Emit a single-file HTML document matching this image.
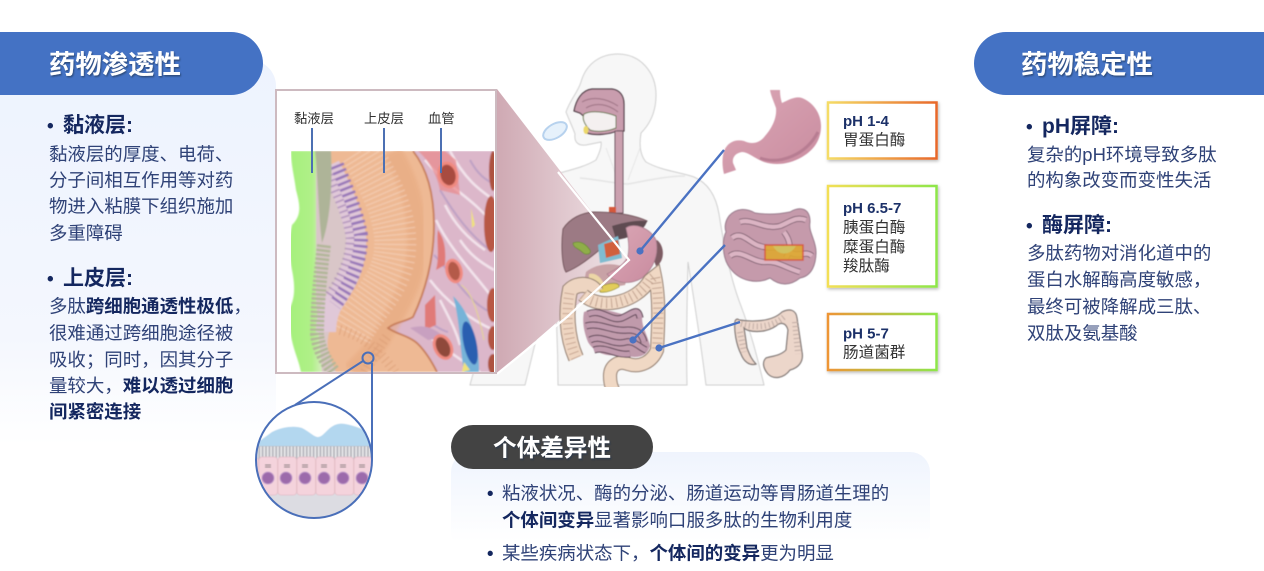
<!DOCTYPE html>
<html lang="zh"><head><meta charset="utf-8"><title>口服多肽屏障</title>
<style>
html,body{margin:0;padding:0;background:#fff;width:1264px;height:571px;overflow:hidden}
svg{display:block}
text{font-family:"Liberation Sans","Noto Sans CJK SC",sans-serif;fill:#2f4277;font-size:18.45px}
.h{font-size:26.4px;font-weight:700;fill:#fff}
.s{font-size:21px;font-weight:700;fill:#14275f}
.b{font-weight:700;fill:#14275f}
.lab{font-size:13.3px;fill:#333}
.ph{font-size:15px;font-weight:700;fill:#1b3068}
.en{font-size:15.6px;fill:#333}
</style></head><body>
<svg width="1264" height="571" viewBox="0 0 1264 571" xmlns="http://www.w3.org/2000/svg">
<defs>
<linearGradient id="lc" x1="0" y1="0" x2="0" y2="1"><stop offset="0" stop-color="#edf3fe"/><stop offset=".72" stop-color="#f4f7fe"/><stop offset="1" stop-color="#fff"/></linearGradient>
<linearGradient id="bc" x1="0" y1="0" x2="0" y2="1"><stop offset="0" stop-color="#eff4fd"/><stop offset=".9" stop-color="#fff"/></linearGradient>
<linearGradient id="wedge" x1="497" y1="0" x2="632" y2="0" gradientUnits="userSpaceOnUse"><stop offset="0" stop-color="#cfa9b3"/><stop offset=".55" stop-color="#e2cbd1"/><stop offset="1" stop-color="#f1e7e9"/></linearGradient>
<linearGradient id="g1" x1="0" y1="0" x2="1" y2="0"><stop offset="0" stop-color="#f5dc66"/><stop offset="1" stop-color="#e8682a"/></linearGradient>
<linearGradient id="g2" x1="0" y1="0" x2="1" y2="0"><stop offset="0" stop-color="#f3df55"/><stop offset="1" stop-color="#8ee64a"/></linearGradient>
<linearGradient id="g3" x1="0" y1="0" x2="1" y2="0"><stop offset="0" stop-color="#ee9536"/><stop offset="1" stop-color="#8ee64a"/></linearGradient>
<linearGradient id="grn" x1="0" y1="0" x2="1" y2="0"><stop offset="0" stop-color="#a5f07c"/><stop offset=".7" stop-color="#b0f088"/><stop offset="1" stop-color="#d4eebc"/></linearGradient>
<linearGradient id="sto" x1="0" y1="0" x2="1" y2="1"><stop offset="0" stop-color="#dba8b6"/><stop offset="1" stop-color="#c98b9f"/></linearGradient>
<clipPath id="cs"><rect x="291" y="151" width="203" height="221"/></clipPath>
<clipPath id="circ"><circle cx="314" cy="460" r="58"/></clipPath>
<clipPath id="bodyclip"><rect x="440" y="40" width="340" height="347"/></clipPath>
<filter id="bl"><feGaussianBlur stdDeviation=".45"/></filter>
<filter id="bl1"><feGaussianBlur stdDeviation=".75"/></filter>
<filter id="bl2"><feGaussianBlur stdDeviation="1.6"/></filter>
<filter id="sh" x="-10%" y="-10%" width="125%" height="125%"><feDropShadow dx="1" dy="1.5" stdDeviation="1.5" flood-color="#000" flood-opacity=".28"/></filter>
<filter id="ts" x="-10%" y="-20%" width="125%" height="150%"><feDropShadow dx="1" dy="1.5" stdDeviation=".7" flood-color="#22304f" flood-opacity=".6"/></filter>
</defs>

<!-- side card backgrounds -->
<rect x="-30" y="60" width="306" height="385" rx="26" fill="url(#lc)"/>
<rect x="451" y="452" width="479" height="100" rx="20" fill="url(#bc)"/>

<!-- human body -->
<g filter="url(#bl)" clip-path="url(#bodyclip)">
<path d="M618 54C640 54 656 72 656 95C656 112 650 124 641 133C639 145 640 155 646 162C662 171 680 172 694 177C708 183 716 196 719 214C723 240 730 278 741 306C750 330 756 352 764 385L706 385C702 352 696 312 688 262C687 300 686 345 687 385L558 385C558 350 556 305 553 270C545 300 535 345 525 385L470 385C482 340 498 300 508 268C514 235 520 195 540 180C556 172 580 170 596 160C600 152 602 146 601 142L586 145C578 146 574 142 575 134C573 128 570 122 566 112C570 100 578 92 581 82C586 64 600 54 618 54Z" fill="#f7f7f7" stroke="#cfcfcf" stroke-width="1"/>
<path d="M580 178C600 180 618 184 628 184C640 182 665 176 685 176" fill="none" stroke="#e4e4e4" stroke-width="1.5"/>
<path d="M606 148L618 180M640 148L628 180" stroke="#e6e6e6" fill="none"/>
</g>

<!-- wedge -->
<polygon points="497,89 629,260 497,374" fill="url(#wedge)"/>

<!-- tablet -->
<ellipse cx="555" cy="131" rx="13" ry="7" transform="rotate(-30 555 131)" fill="#e6f1fb" stroke="#b7d2ee" stroke-width="2"/>

<!-- organs in body -->
<g filter="url(#bl)" clip-path="url(#bodyclip)">
<path d="M574 111C576 100 582 90 592 89L612 89C620 90 624 96 624 104L624 131L617 131C610 134 596 136 587 133L586 118L580 113Z" fill="#c99dae" stroke="#4f3d46" stroke-width="1.2"/>
<path d="M584 114C592 110 606 112 616 116L616 128C606 132 596 132 590 130C584 124 582 118 584 114Z" fill="#f4f0f0" stroke="#6c7a54" stroke-width="1"/>
<path d="M582 102C592 96 606 98 618 106M586 108C596 102 608 104 618 112" fill="none" stroke="#a47a8b" stroke-width="1.2"/>
<ellipse cx="586" cy="130" rx="2.5" ry="4" fill="#ecd86a"/>
<rect x="615" y="131" width="8" height="82" fill="#cba0af" stroke="#6d5560" stroke-width="1"/>
<rect x="609" y="207" width="7" height="9" fill="#d5583a"/>
<path d="M593 212C612 212 632 214 647 221C642 230 628 236 612 240C596 252 582 266 566 272C562 266 561 245 563 229C570 218 582 213 593 212Z" fill="#9c7a84" stroke="#76585f" stroke-width="1"/>
<path d="M612 226C625 222 638 220 647 221C644 232 630 238 616 240Z" fill="#5e4c51"/>
<path d="M657 240C665 246 665 262 656 266L650 250Z" fill="#7d5b64"/>
<path d="M573 243C580 240 586 244 590 250C592 254 586 256 582 252C578 248 573 248 573 243Z" fill="#8fae48" stroke="#6e8a35" stroke-width=".8"/>
<path d="M598 245L618 236L622 258L600 263Z" fill="#7fbcd0"/>
<path d="M604 244L618 240L620 254L606 258Z" fill="#d1603e"/>
<path d="M586 272C598 262 618 262 630 270L625 285C610 288 592 288 584 282Z" fill="#c8a2a6"/>
<path d="M589 274C596 272 602 278 606 288L598 292C592 286 588 280 589 274Z" fill="#ecd6a6"/>
<path d="M600 287C610 282 620 282 619 287C612 291 605 293 600 292Z" fill="#e2cc5a" stroke="#8f8a3a" stroke-width=".7"/>
<path d="M626 228C634 222 650 228 656 240C659 254 654 268 642 278C630 285 616 284 607 274C614 270 624 266 628 256C630 246 628 236 626 228Z" fill="url(#sto)" stroke="#a97f8e" stroke-width=".8"/>
<!-- colon -->
<path d="M576 358C566 335 566 310 570 290C578 282 592 284 596 292" fill="none" stroke="#8f7a6c" stroke-width="16"/>
<path d="M576 358C566 335 566 310 570 290C578 282 592 284 596 292" fill="none" stroke="#eed5c1" stroke-width="14"/>
<path d="M576 358C566 335 566 310 570 290" fill="none" stroke="#caa995" stroke-width="10" stroke-dasharray="1 4"/>
<path d="M583 295C600 310 635 304 650 280L655 276C660 300 658 330 657 350C652 362 640 368 628 364C618 360 610 366 610 376C610 384 612 388 614 392" fill="none" stroke="#8f7a6c" stroke-width="14"/>
<path d="M583 295C600 310 635 304 650 280L655 276C660 300 658 330 657 350C652 362 640 368 628 364C618 360 610 366 610 376C610 384 612 388 614 392" fill="none" stroke="#f0d8c4" stroke-width="12"/>
<path d="M583 295C600 310 635 304 650 280L655 276C660 300 658 330 657 350" fill="none" stroke="#c2a390" stroke-width="10" stroke-dasharray="1 4"/>
<!-- small intestine -->
<path d="M584 312C600 306 612 312 622 314C634 312 640 300 642 318C642 328 648 336 650 346C646 360 632 358 620 354C606 358 594 352 588 342C584 332 582 322 584 312Z" fill="#c09aab"/>
<path d="M588 314C602 308 610 322 622 318C632 314 638 306 640 318M586 326C600 322 612 332 628 330C638 330 642 334 644 342M590 340C602 334 612 346 626 342C634 340 640 348 646 350M594 350C606 346 616 356 630 354" fill="none" stroke="#574050" stroke-width="7"/>
<path d="M588 314C602 308 610 322 622 318C632 314 638 306 640 318M586 326C600 322 612 332 628 330C638 330 642 334 644 342M590 340C602 334 612 346 626 342C634 340 640 348 646 350M594 350C606 346 616 356 630 354" fill="none" stroke="#c09aad" stroke-width="5"/>
</g>

<!-- white wedge outline -->
<polyline points="558,172 629,260 567,317 497,374" fill="none" stroke="#fff" stroke-width="2.2"/>

<!-- cross-section frame -->
<rect x="276" y="90" width="220" height="283" fill="#fff" stroke="#cdbac0" stroke-width="2"/>
<g clip-path="url(#cs)">
<g filter="url(#bl1)">
<path d="M291 151L322 151L322 372L301 372C298 355 289 345 289 310C294 300 296 290 292 270C288 250 290 235 292 225C302 215 300 205 296 190C294 175 291 165 291 151Z" fill="url(#grn)"/>
<path d="M316 151L345 151L372 230L365 280L345 372L322 372L316 300Z" fill="#d9c6c8"/>
<rect x="385" y="151" width="115" height="221" fill="#dcb7ca"/>
<path d="M425 160C450 190 470 195 494 225M436 220C450 250 480 280 494 300M430 280C445 300 470 320 494 330M450 151C465 180 480 190 494 200M420 330C440 345 460 360 480 372M460 240C470 255 480 262 494 270M445 205C455 225 470 240 485 250M440 300C450 320 456 330 460 345" fill="none" stroke="#f3e4ec" stroke-width="2.5"/>
<path d="M440 190C455 215 470 235 490 250M434 255C450 270 465 300 490 312M470 160C478 175 486 180 494 184M425 320C435 325 440 330 448 332" fill="none" stroke="#bda0c4" stroke-width="2"/>
<ellipse cx="493" cy="171" rx="4" ry="20" fill="#ad5240"/>
<ellipse cx="491" cy="224" rx="7" ry="28" fill="#b85845"/>
<ellipse cx="493" cy="305" rx="6" ry="17" fill="#b85845"/>
<ellipse cx="493" cy="338" rx="5" ry="12" fill="#b25543"/>
<ellipse cx="493" cy="364" rx="5" ry="10" fill="#ad5240"/>
<path d="M326 151L413 151C428 170 434 195 434 225C434 260 425 292 413 317C405 322 395 322 388 328C396 334 410 336 418 344C426 352 432 362 437 372L336 372C330 358 326 348 328 338C330 322 342 308 352 292C362 276 366 258 366 240C364 215 350 195 340 178C334 168 328 160 326 151Z" fill="#eeb994"/>
<path d="M392 152C412 185 420 220 416 260C410 290 402 300 380 340C370 355 362 362 352 372" fill="none" stroke="#e6a87e" stroke-width="20" opacity=".55" filter="url(#bl2)"/>
<path d="M360 151C385 190 400 225 394 258C388 290 362 310 350 336" fill="none" stroke="#f6d6c0" stroke-width="42" stroke-dasharray="1 3.8" opacity=".75"/>
<path d="M340 330C360 335 375 345 395 372M365 372C372 360 380 345 388 335" fill="none" stroke="#d89a72" stroke-width="10" stroke-dasharray="1 4" opacity=".7"/>
<path d="M413 151C428 170 434 195 434 225C434 260 425 292 413 317C405 322 395 322 388 328C396 334 410 336 418 344C426 352 432 362 437 372" fill="none" stroke="#c67a54" stroke-width="1.8"/>
<path d="M330 165C338 182 350 205 356 235C358 260 346 285 332 305C328 313 326 322 326 332" fill="none" stroke="#e0c8d8" stroke-width="20"/>
<path d="M337 165C345 185 356 208 361 235C362 260 350 285 335 305" fill="none" stroke="#9776b8" stroke-width="14" stroke-dasharray="2.6 3.4"/>
<path d="M329 175C336 195 348 215 350 238C350 260 340 280 327 298" fill="none" stroke="#8e6ba8" stroke-width="9" stroke-dasharray="1.5 4" opacity=".6"/>
<path d="M315 151C318 175 318 210 322 243C329 225 333 190 331 151Z" fill="#aeb498"/>
<path d="M324 245C320 275 317 310 317 335C319 350 326 362 334 372" fill="none" stroke="#b1b698" stroke-width="14" stroke-dasharray="2.6 1.8"/>
<path d="M418 151C428 160 436 172 440 190L460 195L456 160L445 151Z" fill="#e8888a" opacity=".7"/>
<ellipse cx="448" cy="175" rx="9" ry="12" transform="rotate(-15 448 175)" fill="#a84b3f" stroke="#f08a80" stroke-width="3"/>
<path d="M438 230C445 240 446 250 445 265L436 270C440 255 436 240 438 230Z" fill="#e07a78"/>
<ellipse cx="454" cy="271" rx="7" ry="11" transform="rotate(-15 454 271)" fill="#b45a4a" stroke="#f08a80" stroke-width="3"/>
<path d="M425 305L435 295L436 325L425 330Z" fill="#e07a78"/>
<path d="M410 328C420 325 432 325 445 338L428 340Z" fill="#c8a0c0"/>
<ellipse cx="443" cy="347" rx="8" ry="12" transform="rotate(-25 443 347)" fill="#8f4a3a" stroke="#f08a80" stroke-width="3"/>
<path d="M453 296C468 310 480 340 479 372L464 372C460 350 460 320 453 296Z" fill="#76b3d8"/>
<ellipse cx="470" cy="343" rx="6.5" ry="22" transform="rotate(-12 470 343)" fill="#2c5fb0"/>
<path d="M471 208L475 225L472 228Z" fill="#f0e27a"/>
<path d="M461 285C470 290 478 310 484 340" fill="none" stroke="#e5d58e" stroke-width="1"/>
<path d="M464 362L470 370L462 372Z" fill="#f0e27a"/>
</g>
</g>

<!-- labels in frame -->
<text class="lab" x="294" y="123">黏液层</text>
<text class="lab" x="364" y="123">上皮层</text>
<text class="lab" x="428" y="123">血管</text>
<path d="M312 128V173M384 128V173M441 128V173" stroke="#4c70b3" stroke-width="2" fill="none"/>

<!-- magnifier -->
<g clip-path="url(#circ)" filter="url(#bl)">
<rect x="250" y="400" width="130" height="120" fill="#fff"/>
<rect x="250" y="490" width="130" height="40" fill="#dcdce2"/>
<path d="M250 448L272 432C284 426 296 426 302 428C310 432 314 437 318 437C324 437 328 426 338 424C346 422 358 428 372 432L380 448L380 450L250 450Z" fill="#b3d7ef"/>
<rect x="250" y="446" width="130" height="14" fill="#b9b9c0"/>
<path d="M250 453H380" stroke="#fff" stroke-width="13" stroke-dasharray="1.4 2" fill="none" opacity=".75"/>
<g fill="#f4d3dc" stroke="#e4bdc7" stroke-width=".8">
<rect x="240" y="457" width="18" height="38" rx="3"/>
<rect x="259" y="457" width="18.5" height="38" rx="3"/>
<rect x="278" y="457" width="18.5" height="38" rx="3"/>
<rect x="297" y="457" width="18.5" height="38" rx="3"/>
<rect x="316" y="457" width="18.5" height="38" rx="3"/>
<rect x="335" y="457" width="18.5" height="38" rx="3"/>
<rect x="354" y="457" width="22" height="38" rx="3"/>
</g>
<g fill="#9c6bab" stroke="#c39ccc" stroke-width="1">
<circle cx="268" cy="478" r="6"/><circle cx="286" cy="478" r="6"/><circle cx="305" cy="478" r="6"/><circle cx="324" cy="478" r="6"/><circle cx="343" cy="478" r="6"/><circle cx="362" cy="478" r="6"/>
</g>
<path d="M265 465H271M265 467H271M284 465H290M284 467H290M302 465H308M302 467H308M321 465H327M321 467H327M340 465H346M340 467H346M359 465H365M359 467H365" stroke="#555" stroke-width=".8"/>
</g>
<circle cx="314" cy="460" r="58" fill="none" stroke="#4a6fb9" stroke-width="2"/>
<circle cx="368" cy="358" r="5.5" fill="none" stroke="#4a6fb9" stroke-width="2"/>
<path d="M363 361L295 405M372 363L372 460" stroke="#4a6fb9" stroke-width="2" fill="none"/>

<!-- big organs -->
<g filter="url(#bl)">
<path d="M770 90L780 90C780 96 781 100 782 103C790 99 796 96 802 98C814 103 821 114 821 126C821 140 814 150 802 157C790 164 776 166 764 162C754 158 748 152 742 152C735 153 732 158 733 163L736 170L724 174C722 166 722 158 724 151C728 142 735 139 744 141C752 145 760 143 765 136C772 128 777 118 776 108C774 102 771 96 770 90Z" fill="url(#sto)"/>
<path d="M760 158C780 165 806 155 818 132" fill="none" stroke="#b77d92" stroke-width="3"/>

<path d="M729 216C736 208 746 208 755 213C768 215 780 214 790 212C800 206 810 208 810 222C808 232 816 240 816 252C816 264 812 276 800 278C790 286 780 286 770 278C758 284 740 282 730 268C722 258 722 240 726 232C724 226 726 220 729 216Z" fill="#c59aab" stroke="#96798a" stroke-width="1"/>
<path d="M732 238C742 230 750 244 760 246C770 250 780 244 790 252C798 258 806 250 812 256M730 256C740 248 752 262 764 262C776 260 786 268 800 272M740 222C752 218 764 230 780 226C790 222 796 216 806 220M784 232C790 240 792 248 786 258" fill="none" stroke="#6f5363" stroke-width="6"/>
<path d="M732 238C742 230 750 244 760 246C770 250 780 244 790 252C798 258 806 250 812 256M730 256C740 248 752 262 764 262C776 260 786 268 800 272M740 222C752 218 764 230 780 226C790 222 796 216 806 220M784 232C790 240 792 248 786 258" fill="none" stroke="#dbb4c3" stroke-width="4.5"/>
<rect x="765" y="245" width="38" height="15" fill="#dea830" stroke="#d8543a" stroke-width="1.5" opacity=".9"/>
<path d="M773 246C778 256 790 256 796 246" fill="#d2c15e"/>

<path d="M739 320C752 322 772 322 782 312C790 308 796 310 797 318L802 352C804 362 798 368 790 370C784 378 774 380 768 374C763 368 762 362 766 358C772 356 780 356 786 350L788 330C786 322 780 322 776 326C764 334 748 332 744 328L747 348C750 356 752 360 756 364C750 366 744 362 741 354C736 344 734 330 735 322C735 320 737 318 739 320Z" fill="#ecd6ca" stroke="#7d7472" stroke-width="1.2"/>
<path d="M741 324C755 328 772 328 785 316M795 322L798 354M740 332L744 352" fill="none" stroke="#c0aca4" stroke-width="6" stroke-dasharray="1 3"/>
</g>

<!-- connector lines -->
<path d="M640 251L724 150M633 340L725 245M659 348L740 322" stroke="#4a72c2" stroke-width="2.4" fill="none"/>
<circle cx="640" cy="251" r="3.6" fill="#4a72c2"/>
<circle cx="633" cy="340" r="3.6" fill="#4a72c2"/>
<circle cx="659" cy="348" r="3.6" fill="#4a72c2"/>

<!-- pH boxes -->
<g filter="url(#sh)">
<rect x="828" y="102.500" width="108.500" height="56" fill="#fff" stroke="url(#g1)" stroke-width="2.500"/>
<rect x="828" y="186" width="108.500" height="100.500" fill="#fff" stroke="url(#g2)" stroke-width="2.500"/>
<rect x="828" y="314" width="108.500" height="56" fill="#fff" stroke="url(#g3)" stroke-width="2.500"/>
</g>
<text class="ph" x="843" y="126">pH 1-4</text>
<text class="en" x="843" y="145">胃蛋白酶</text>
<text class="ph" x="843" y="213">pH 6.5-7</text>
<text class="en" x="843" y="232.500">胰蛋白酶</text>
<text class="en" x="843" y="252">糜蛋白酶</text>
<text class="en" x="843" y="271">羧肽酶</text>
<text class="ph" x="843" y="338.500">pH 5-7</text>
<text class="en" x="843" y="357.500">肠道菌群</text>

<!-- header pills -->
<path d="M0 32H231A32 31.500 0 0 1 231 95H0Z" fill="#4472c4"/>
<path d="M1264 32H1006A32 31.500 0 0 0 1006 95H1264Z" fill="#4472c4"/>
<rect x="451" y="425" width="202" height="44" rx="22" fill="#434343"/>
<text class="h" x="49" y="73.500" filter="url(#ts)">药物渗透性</text>
<text class="h" x="1021" y="73.500" filter="url(#ts)">药物稳定性</text>
<text class="h" x="493" y="456" style="font-size:23.6px" filter="url(#ts)">个体差异性</text>

<!-- left text -->
<text class="s" x="47" y="132" style="font-size:19px">•</text>
<text class="s" x="63" y="132">黏液层:</text>
<text x="49" y="160.500">黏液层的厚度、电荷、</text>
<text x="49" y="186.500">分子间相互作用等对药</text>
<text x="49" y="212.500">物进入粘膜下组织施加</text>
<text x="49" y="239.500">多重障碍</text>
<text class="s" x="47" y="285" style="font-size:19px">•</text>
<text class="s" x="63" y="285">上皮层:</text>
<text x="49" y="312.500">多肽<tspan class="b">跨细胞通透性极低</tspan>&#65292;</text>
<text x="49" y="339.500">很难通过跨细胞途径被</text>
<text x="49" y="366">吸收&#65307;同时&#65292;因其分子</text>
<text x="49" y="392">量较大&#65292;<tspan class="b">难以透过细胞</tspan></text>
<text x="49" y="418" class="b">间紧密连接</text>

<!-- right text -->
<text class="s" x="1026" y="133" style="font-size:19px">•</text>
<text class="s" x="1042" y="133">pH屏障:</text>
<text x="1027" y="161">复杂的pH环境导致多肽</text>
<text x="1027" y="186.500">的构象改变而变性失活</text>
<text class="s" x="1026" y="232" style="font-size:19px">•</text>
<text class="s" x="1042" y="232">酶屏障:</text>
<text x="1027" y="259.500">多肽药物对消化道中的</text>
<text x="1027" y="286">蛋白水解酶高度敏感&#65292;</text>
<text x="1027" y="313">最终可被降解成三肽、</text>
<text x="1027" y="339.500">双肽及氨基酸</text>

<!-- bottom text -->
<text x="487" y="499.500" class="b">•</text>
<text x="502" y="499.500">粘液状况、酶的分泌、肠道运动等胃肠道生理的</text>
<text x="502" y="526.500"><tspan class="b">个体间变异</tspan>显著影响口服多肽的生物利用度</text>
<text x="487" y="559.500" class="b">•</text>
<text x="502" y="559.500">某些疾病状态下&#65292;<tspan class="b">个体间的变异</tspan>更为明显</text>
</svg>
</body></html>
